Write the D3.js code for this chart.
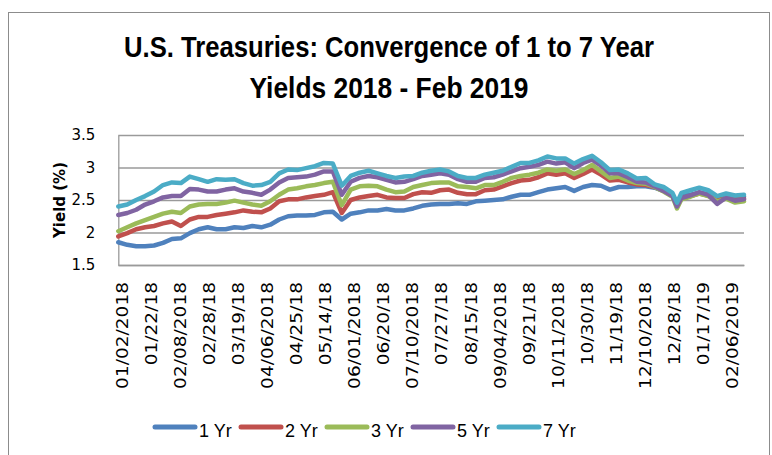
<!DOCTYPE html>
<html>
<head>
<meta charset="utf-8">
<script src="https://cdn.jsdelivr.net/npm/d3@7"></script>
<style>
body { margin: 0; background: #fff; }
</style>
</head>
<body>
<div id="chart"></div>
<script>
// trading day number (0 = 01/02/2018) for each sampled point
var dayIndex = [0, 4, 8, 12, 16, 20, 24, 28, 32, 36, 40, 44, 48, 52, 56, 60, 64, 68, 72, 76,
    80, 84, 88, 92, 96, 100, 104, 108, 112, 116, 120, 124, 128, 132, 136, 140, 144, 148, 152, 156,
    160, 164, 168, 172, 176, 180, 184, 188, 192, 196, 200, 204, 208, 212, 216, 220, 224, 228, 232, 236,
    240, 244, 248, 250, 252, 256, 260, 264, 268, 272, 276, 280];

var yr1 = [1.85, 1.81, 1.79, 1.79, 1.80, 1.84, 1.90, 1.91, 1.99, 2.05, 2.08, 2.05, 2.05, 2.08, 2.07, 2.10, 2.08, 2.12, 2.20, 2.25,
    2.26, 2.26, 2.27, 2.31, 2.32, 2.20, 2.29, 2.31, 2.34, 2.34, 2.36, 2.34, 2.34, 2.37, 2.41, 2.43, 2.44, 2.44, 2.45, 2.44,
    2.48, 2.49, 2.50, 2.51, 2.55, 2.58, 2.58, 2.62, 2.66, 2.68, 2.70, 2.64, 2.70, 2.73, 2.72, 2.66, 2.70, 2.70, 2.71, 2.71,
    2.69, 2.64, 2.58, 2.45, 2.56, 2.58, 2.61, 2.59, 2.55, 2.56, 2.54, 2.55];
var yr2 = [1.94, 1.99, 2.05, 2.08, 2.10, 2.14, 2.17, 2.10, 2.20, 2.24, 2.24, 2.27, 2.29, 2.31, 2.34, 2.32, 2.31, 2.37, 2.48, 2.51,
    2.51, 2.54, 2.56, 2.58, 2.62, 2.30, 2.50, 2.54, 2.56, 2.58, 2.54, 2.53, 2.53, 2.59, 2.62, 2.61, 2.65, 2.66, 2.61, 2.59,
    2.59, 2.65, 2.66, 2.71, 2.76, 2.80, 2.81, 2.85, 2.91, 2.89, 2.91, 2.84, 2.90, 2.97, 2.89, 2.80, 2.81, 2.77, 2.74, 2.73,
    2.70, 2.64, 2.56, 2.42, 2.53, 2.56, 2.60, 2.57, 2.50, 2.53, 2.50, 2.52];
var yr3 = [2.02, 2.08, 2.14, 2.19, 2.24, 2.29, 2.32, 2.30, 2.40, 2.43, 2.44, 2.44, 2.46, 2.49, 2.46, 2.43, 2.41, 2.48, 2.58, 2.66,
    2.68, 2.71, 2.73, 2.76, 2.78, 2.42, 2.66, 2.71, 2.72, 2.71, 2.66, 2.62, 2.63, 2.70, 2.73, 2.76, 2.77, 2.77, 2.71, 2.70,
    2.68, 2.73, 2.73, 2.78, 2.84, 2.87, 2.89, 2.92, 2.97, 2.95, 2.97, 2.90, 2.96, 3.04, 2.94, 2.84, 2.86, 2.80, 2.76, 2.75,
    2.70, 2.63, 2.55, 2.37, 2.51, 2.55, 2.60, 2.56, 2.48, 2.52, 2.46, 2.48];
var yr5 = [2.27, 2.30, 2.35, 2.43, 2.48, 2.54, 2.56, 2.56, 2.67, 2.66, 2.63, 2.63, 2.66, 2.68, 2.63, 2.61, 2.58, 2.66, 2.77, 2.84,
    2.85, 2.86, 2.89, 2.94, 2.94, 2.58, 2.78, 2.84, 2.87, 2.85, 2.81, 2.77, 2.78, 2.82, 2.87, 2.89, 2.91, 2.89, 2.82, 2.78,
    2.78, 2.84, 2.85, 2.89, 2.94, 2.99, 3.01, 3.04, 3.09, 3.06, 3.08, 2.99, 3.07, 3.12, 3.03, 2.91, 2.91, 2.85, 2.78, 2.77,
    2.71, 2.64, 2.56, 2.40, 2.53, 2.57, 2.62, 2.58, 2.44, 2.54, 2.49, 2.51];
var yr7 = [2.40, 2.43, 2.50, 2.56, 2.63, 2.73, 2.77, 2.76, 2.86, 2.82, 2.78, 2.82, 2.81, 2.82, 2.76, 2.72, 2.73, 2.78, 2.91, 2.97,
    2.96, 2.99, 3.02, 3.07, 3.06, 2.72, 2.87, 2.92, 2.95, 2.91, 2.87, 2.84, 2.86, 2.87, 2.92, 2.95, 2.97, 2.94, 2.87, 2.84,
    2.84, 2.89, 2.92, 2.95, 3.01, 3.07, 3.07, 3.11, 3.17, 3.14, 3.14, 3.06, 3.13, 3.18, 3.08, 2.96, 2.97, 2.91, 2.83, 2.84,
    2.74, 2.70, 2.61, 2.46, 2.61, 2.65, 2.69, 2.65, 2.56, 2.60, 2.57, 2.58];

var seriesNames = ["1 Yr", "2 Yr", "3 Yr", "5 Yr", "7 Yr"];
var seriesValues = [yr1, yr2, yr3, yr5, yr7];
var seriesColors = ["#4f81bd", "#c0504d", "#9bbb59", "#8064a2", "#4bacc6"];

var tickDays = [0, 13, 26, 39, 52, 65, 78, 91, 104, 117, 130, 143, 156, 169, 182, 195, 208, 221, 234, 247, 260, 273];
var tickLabels = ["01/02/2018", "01/22/18", "02/08/2018", "02/28/18", "03/19/18", "04/06/2018", "04/25/18",
    "05/14/18", "06/01/2018", "06/20/18", "07/10/2018", "07/27/18", "08/15/18", "09/04/2018", "09/21/18",
    "10/11/2018", "10/30/18", "11/19/18", "12/10/2018", "12/28/18", "01/17/19", "02/06/2019"];
var yTicks = [1.5, 2, 2.5, 3, 3.5];

var svgWidth = 772;
var svgHeight = 455;
var plot = { left: 118.3, right: 744, top: 135, bottom: 265 };

var svg = d3.select("#chart")
    .append("svg")
    .attr("width", svgWidth)
    .attr("height", svgHeight);

svg.append("rect")
    .attr("x", 8.5)
    .attr("y", 12.5)
    .attr("width", 761)
    .attr("height", 470)
    .attr("fill", "none")
    .attr("stroke", "#8c8c8c");

// title, squeezed to the narrow look of the original
var titleLines = ["U.S. Treasuries: Convergence of 1 to 7 Year", "Yields 2018 - Feb 2019"];
var titleWidths = [530, 279];
svg.selectAll(".title")
    .data(titleLines)
    .enter()
    .append("text")
    .attr("class", "title")
    .attr("x", 389)
    .attr("y", (d, i) => 57 + i * 41)
    .attr("text-anchor", "middle")
    .attr("textLength", (d, i) => titleWidths[i])
    .attr("lengthAdjust", "spacingAndGlyphs")
    .style("font-family", "'Liberation Sans', sans-serif")
    .style("font-weight", "bold")
    .style("font-size", "29px")
    .attr("fill", "#000")
    .text(d => d);

var xScale = d3.scaleLinear()
    .domain([0, 280])
    .range([plot.left, plot.right]);

var yScale = d3.scaleLinear()
    .domain([1.5, 3.5])
    .range([plot.bottom, plot.top]);

// gridlines
svg.append("g")
    .attr("transform", `translate(${plot.left}, 0)`)
    .call(d3.axisLeft(yScale).tickValues(yTicks).tickSize(-(plot.right - plot.left)).tickFormat(""))
    .call(g => g.select(".domain").remove())
    .selectAll("line")
    .attr("stroke", "#9a9a9a")
    .attr("stroke-width", 1.3);

// y axis
var yAxis = svg.append("g")
    .attr("transform", `translate(${plot.left}, 0)`)
    .call(d3.axisLeft(yScale).tickValues(yTicks).tickSize(0).tickPadding(23).tickFormat(d => d));
yAxis.select(".domain").attr("stroke", "#9a9a9a").attr("stroke-width", 1.3);
yAxis.selectAll("text")
    .style("font-family", "'DejaVu Sans', sans-serif")
    .style("font-size", "15px")
    .attr("fill", "#000");

// x axis
var xAxis = svg.append("g")
    .attr("transform", `translate(0, ${plot.bottom})`)
    .call(d3.axisBottom(xScale).tickValues(tickDays).tickSize(0).tickFormat((d, i) => tickLabels[i]));
xAxis.select(".domain").attr("stroke", "#9a9a9a").attr("stroke-width", 1.3);
xAxis.selectAll("text")
    .attr("text-anchor", "end")
    .attr("x", -17 / 1.16)
    .attr("y", 3.5)
    .attr("dy", "0.35em")
    .attr("transform", "rotate(-90) scale(1.16,1)")
    .style("font-family", "'DejaVu Sans', sans-serif")
    .style("font-size", "16px")
    .attr("fill", "#000");

svg.append("text")
    .attr("transform", "translate(65, 200) rotate(-90)")
    .attr("text-anchor", "middle")
    .style("font-family", "'DejaVu Sans', sans-serif")
    .style("font-weight", "bold")
    .style("font-size", "15px")
    .text("Yield (%)");

// lines
var line = d3.line()
    .x((d, i) => xScale(dayIndex[i]))
    .y(d => yScale(d));

svg.selectAll(".series")
    .data(seriesValues)
    .enter()
    .append("path")
    .attr("class", "series")
    .attr("d", d => line(d))
    .attr("fill", "none")
    .attr("stroke", (d, i) => seriesColors[i])
    .attr("stroke-width", 4.5)
    .attr("stroke-linejoin", "round")
    .attr("stroke-linecap", "round");

// legend
var legend = svg.selectAll(".legend")
    .data(seriesNames)
    .enter()
    .append("g")
    .attr("class", "legend")
    .attr("transform", (d, i) => `translate(${155 + i * 86}, 427)`);

legend.append("line")
    .attr("x1", 0)
    .attr("x2", 40)
    .attr("stroke", (d, i) => seriesColors[i])
    .attr("stroke-width", 5)
    .attr("stroke-linecap", "round");

legend.append("text")
    .attr("x", 44)
    .attr("y", 10)
    .style("font-family", "'Liberation Sans', sans-serif")
    .style("font-size", "18px")
    .attr("fill", "#000")
    .text(d => d);
</script>
</body>
</html>
